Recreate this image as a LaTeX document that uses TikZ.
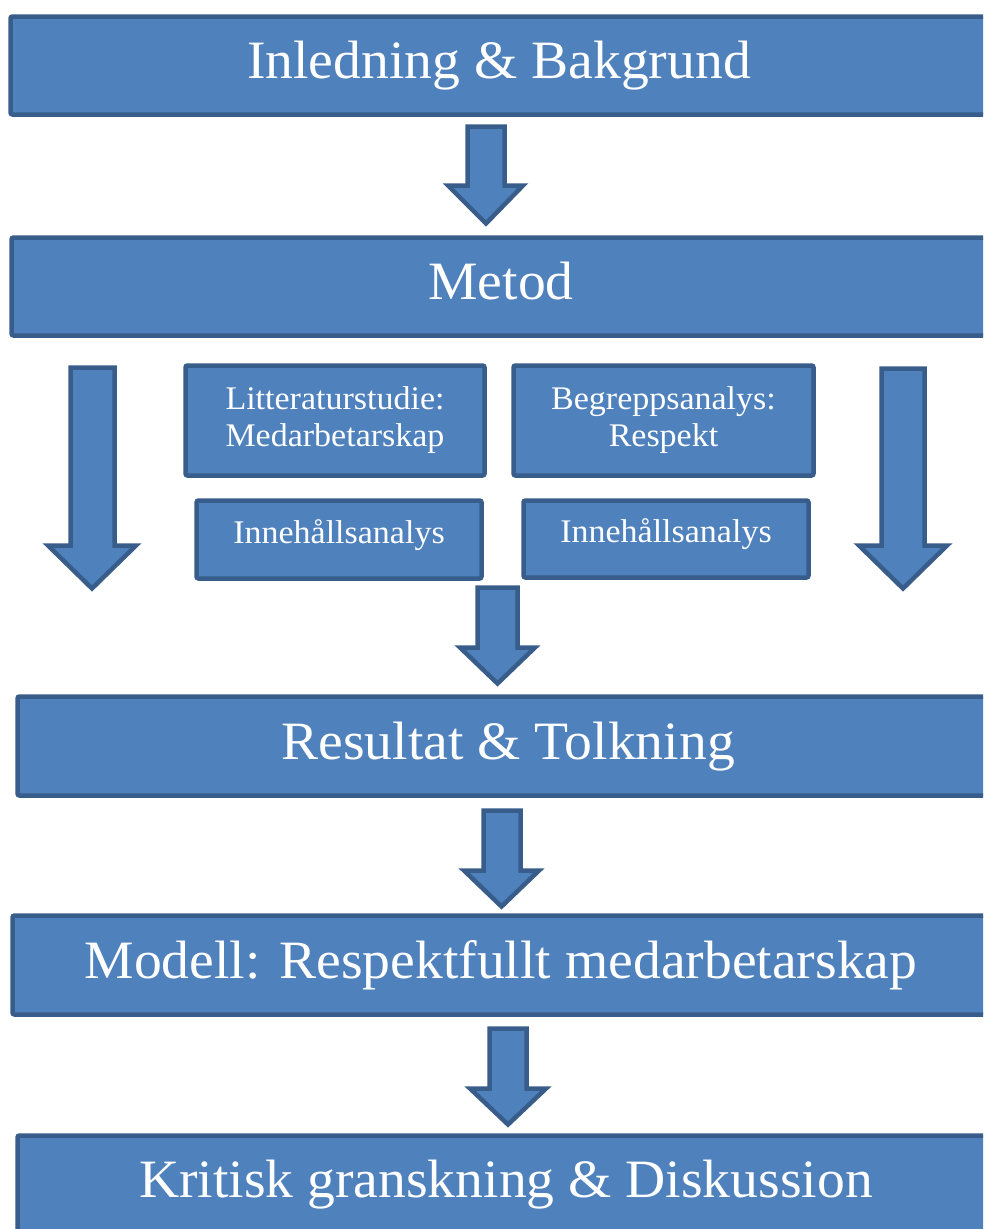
\documentclass[tikz,border=0pt]{standalone}
\usepackage{fontspec}
\newfontfamily\boxfont{Liberation Serif}[FakeStretch=1.03]
\definecolor{boxfill}{HTML}{4F81BD}
\definecolor{boxline}{HTML}{385D8A}
\begin{document}
\begin{tikzpicture}[x=1pt, y=-1pt,
  base/.style={draw=boxline, fill=boxfill, line width=4.5pt, rounded corners=2pt,
    inner sep=0pt, text=white, align=center},
  stage/.style={base, font=\boxfont\fontsize{54}{60}\selectfont,
    text height=36pt, text depth=10pt},
  substep/.style={base, font=\boxfont\fontsize{33}{37}\selectfont},
  subsingle/.style={substep, text height=22pt, text depth=15pt},
  blockarrow/.style={draw=boxline, fill=boxfill, line width=4.5pt, line join=miter},
]
\useasboundingbox (0,0) rectangle (983,1229);
\clip (0,0) rectangle (983,1229);

% main stages
\node[stage, minimum width=977pt, minimum height=98pt] (intro) at (499,65.5) {Inledning \& Bakgrund};
\node[stage, minimum width=979pt, minimum height=98pt] (method) at (501,286.5) {Metod};
\node[stage, minimum width=981pt, minimum height=99pt] (result) at (508,746) {Resultat \& Tolkning};
\node[stage, minimum width=977pt, minimum height=99pt] (model) at (501,965) {Modell: Respektfullt medarbetarskap};
\node[stage, minimum width=977pt, minimum height=98pt] (critique) at (506,1184.5) {Kritisk granskning \& Diskussion};

% method sub-steps
\node[substep, minimum width=299pt, minimum height=110pt] (litstudy) at (335,420.5) {Litteraturstudie:\\Medarbetarskap};
\node[substep, minimum width=300pt, minimum height=110pt] (concept) at (663.5,420.5) {Begreppsanalys:\\Respekt};
\node[subsingle, minimum width=285pt, minimum height=78pt] (contentL) at (339,539.5) {Innehållsanalys};
\node[subsingle, minimum width=285pt, minimum height=77pt] (contentR) at (666,539) {Innehållsanalys};

% block arrows
\draw[blockarrow] (467.5,126.5) -- (504.5,126.5) -- (504.5,185.5) -- (523,185.5)
  -- (486,223.5) -- (448,185.5) -- (467.5,185.5) -- cycle;
\draw[blockarrow] (70.5,367.5) -- (114.5,367.5) -- (114.5,545.5) -- (136,545.5)
  -- (92,588.5) -- (48,545.5) -- (70.5,545.5) -- cycle;
\draw[blockarrow] (881.5,368.5) -- (924.5,368.5) -- (924.5,545.5) -- (947,545.5)
  -- (903,588.5) -- (859,545.5) -- (881.5,545.5) -- cycle;
\draw[blockarrow] (477.5,587.5) -- (517.5,587.5) -- (517.5,647.5) -- (535,647.5)
  -- (497.5,683.5) -- (460,647.5) -- (477.5,647.5) -- cycle;
\draw[blockarrow] (483.5,810.5) -- (520.5,810.5) -- (520.5,870.5) -- (539,870.5)
  -- (501.5,906.5) -- (464,870.5) -- (483.5,870.5) -- cycle;
\draw[blockarrow] (489.5,1028.5) -- (526.5,1028.5) -- (526.5,1088.5) -- (546,1088.5)
  -- (508,1124.5) -- (470,1088.5) -- (489.5,1088.5) -- cycle;
\end{tikzpicture}
\end{document}
